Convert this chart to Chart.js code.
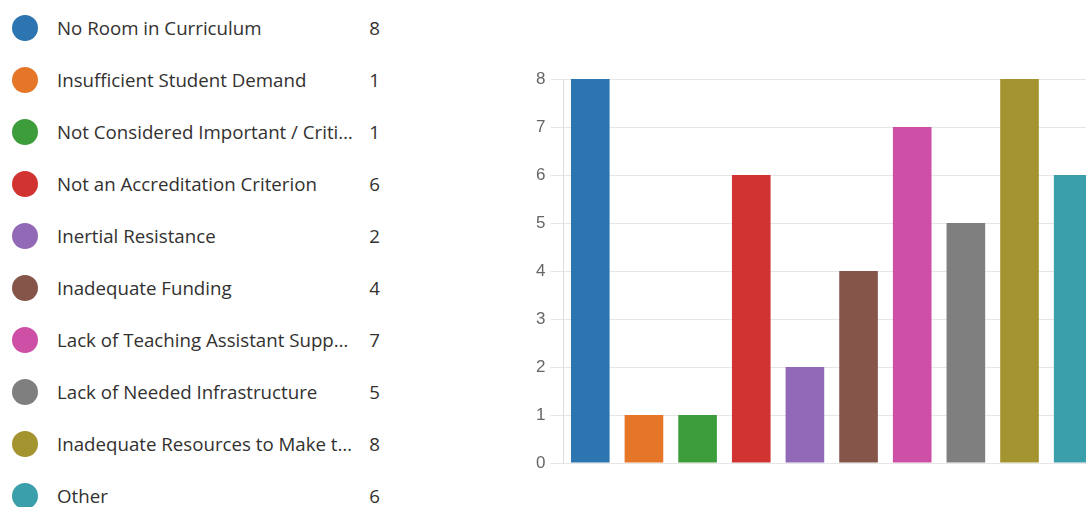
<!DOCTYPE html>
<html>
<head>
<meta charset="utf-8">
<script src="https://cdn.jsdelivr.net/npm/chart.js@4"></script>
<style>
  html, body { margin: 0; padding: 0; background: #fff; }
  body { width: 1086px; height: 507px; overflow: hidden; position: relative; }
  #legend { position: absolute; left: 0; top: 2px; width: 400px; list-style: none; margin: 0; padding: 0;
            font-family: "Open Sans", "Noto Sans", sans-serif; font-size: 18.7px; color: #323130; }
  #legend li { position: relative; height: 52px; }
  #legend .dot { position: absolute; left: 12px; top: 13px; width: 26px; height: 26px; border-radius: 50%; }
  #legend .name { position: absolute; left: 57px; top: 13px; width: 296px; line-height: 26px;
                  white-space: nowrap; overflow: hidden; text-overflow: ellipsis; }
  #legend .count { position: absolute; left: 340px; width: 40px; top: 13px; line-height: 26px; text-align: right; }
  #wrap { position: absolute; left: 526px; top: 0; width: 574px; height: 507px; }
</style>
</head>
<body>
<ul id="legend"></ul>
<div id="wrap"><canvas id="bars"></canvas></div>
<script>
// Reasons given, with the number of responses for each
const reasons = [
    "No Room in Curriculum",
    "Insufficient Student Demand",
    "Not Considered Important / Critical",
    "Not an Accreditation Criterion",
    "Inertial Resistance",
    "Inadequate Funding",
    "Lack of Teaching Assistant Support",
    "Lack of Needed Infrastructure",
    "Inadequate Resources to Make the Change",
    "Other"
];
const counts = [8, 1, 1, 6, 2, 4, 7, 5, 8, 6];
const colors = ["#2c75b1", "#e57627", "#3e9d3b", "#d03330", "#9169b6",
                "#86554a", "#cd4fa6", "#7f7f7f", "#a3942f", "#3a9fab"];
const yTicks = [0, 1, 2, 3, 4, 5, 6, 7, 8];

// Build the list on the left
const legend = document.getElementById('legend');
reasons.forEach((r, i) => {
    const li = document.createElement('li');
    li.innerHTML = '<span class="dot"></span><span class="name"></span><span class="count"></span>';
    li.querySelector('.dot').style.background = colors[i];
    li.querySelector('.name').textContent = r;
    li.querySelector('.count').textContent = counts[i];
    legend.appendChild(li);
});

const ctx = document.getElementById('bars').getContext('2d');
new Chart(ctx, {
    type: 'bar',
    data: {
        labels: reasons,
        datasets: [{
            data: counts,
            backgroundColor: colors,
            borderWidth: 0,
            categoryPercentage: 1,
            barPercentage: 0.72
        }]
    },
    options: {
        responsive: true,
        maintainAspectRatio: false,
        animation: false,
        layout: { padding: { top: 79, bottom: 36, left: 5, right: 0 } },
        plugins: { legend: { display: false }, tooltip: { enabled: false } },
        scales: {
            x: {
                ticks: { display: false },
                grid: { display: false },
                border: { display: false }
            },
            y: {
                min: yTicks[0],
                max: yTicks[yTicks.length - 1],
                ticks: {
                    stepSize: 1,
                    padding: 5,
                    color: '#666',
                    font: { family: 'Liberation Sans, Arial, sans-serif', size: 17 }
                },
                grid: { color: '#e6e6e6', tickLength: 13 },
                border: { color: '#dcdcdc' }
            }
        }
    }
});
</script>
</body>
</html>
